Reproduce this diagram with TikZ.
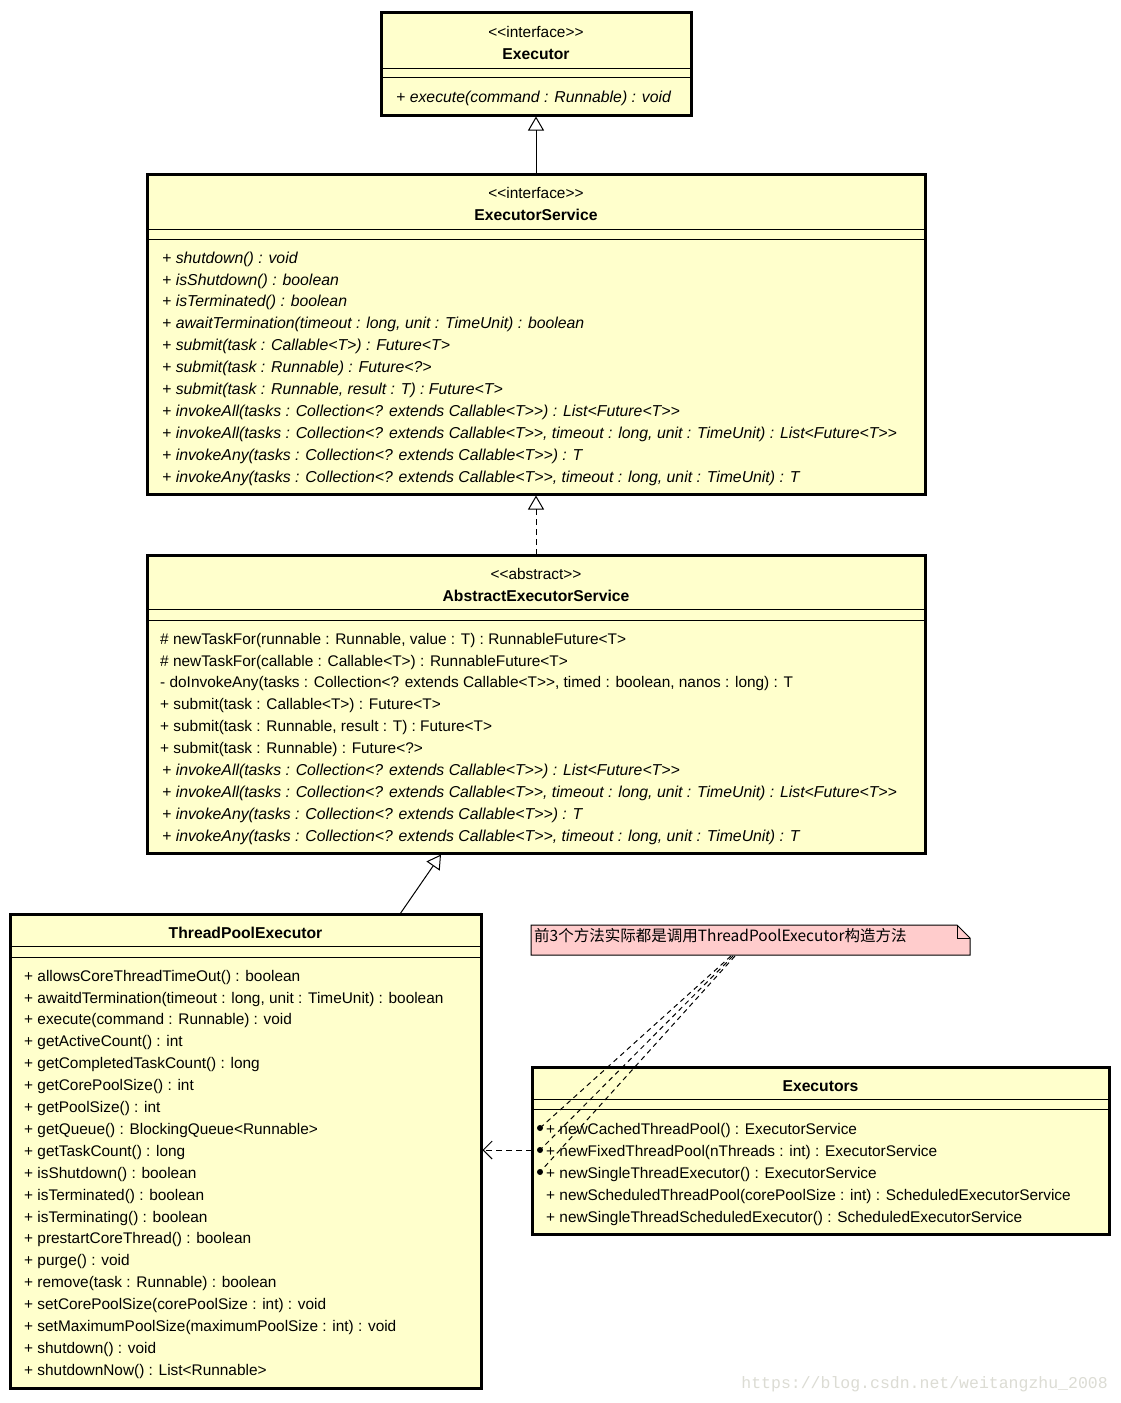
\documentclass[tikz,border=0pt]{standalone}
\usepackage{fontspec}
\setmainfont{Liberation Sans}[Ligatures=TeXOff]
\newfontfamily\cjkfont{Noto Sans CJK SC}
\newfontfamily\wmfont{Liberation Mono}
\usetikzlibrary{arrows.meta}
\definecolor{umlfill}{HTML}{FFFFCC}
\definecolor{notefill}{HTML}{FFCCCC}
\definecolor{wmgray}{HTML}{DCDCD4}
\begin{document}
\begin{tikzpicture}[x=1pt,y=-1pt,
  umlbox/.style={draw=black, line width=3pt, fill=umlfill, inner sep=0pt},
  sep/.style={draw=black, line width=1pt},
  txt/.style={inner sep=0pt, yshift=-3.5pt, font=\fontsize{15.4}{18}\selectfont},
  mtxt/.style={txt, anchor=mid west},
  itxt/.style={mtxt, font=\fontsize{15.8}{18}\selectfont\itshape},
  ctxt/.style={txt, anchor=mid},
  btxt/.style={txt, anchor=mid, font=\fontsize{15.7}{18}\selectfont\bfseries},
  gen/.style={draw=black, line width=1pt, -{Triangle[open, length=14pt, width=16pt]}},
  real/.style={gen, dash pattern=on 6pt off 4pt},
  dep/.style={draw=black, line width=1pt, dash pattern=on 6pt off 4pt, -{Straight Barb[length=9pt, width=18pt, line width=1pt]}},
  noteline/.style={draw=black, line width=1pt, dash pattern=on 5pt off 4pt},
]
\useasboundingbox (0,0) rectangle (1120,1403);
\fill[white] (0,0) rectangle (1120,1403);

% ---------- Executor ----------
\node[umlbox, minimum width=310pt, minimum height=103pt] (executor) at (536,63.5) {};
\draw[sep] (381,68) -- (691,68);
\draw[sep] (381,77) -- (691,77);
\node[ctxt] (exst) at (536,31) {<<interface>>};
\node[btxt] (exname) at (536,53) {Executor};
\node[itxt] (exm1) at (396,96) {+ execute(command : Runnable) : void};

% ---------- ExecutorService ----------
\node[umlbox, minimum width=778pt, minimum height=320pt] (es) at (536,334) {};
\draw[sep] (147,229) -- (925,229);
\draw[sep] (147,239) -- (925,239);
\node[ctxt] (esst) at (536,192) {<<interface>>};
\node[btxt] (esname) at (536,214) {ExecutorService};
\foreach \t [count=\i from 0] in {
  {+ shutdown() : void},
  {+ isShutdown() : boolean},
  {+ isTerminated() : boolean},
  {+ awaitTermination(timeout : long, unit : TimeUnit) : boolean},
  {+ submit(task : Callable<T>) : Future<T>},
  {+ submit(task : Runnable) : Future<?>},
  {+ submit(task : Runnable, result : T) : Future<T>},
  {+ invokeAll(tasks : Collection<? extends Callable<T>>) : List<Future<T>>},
  {+ invokeAll(tasks : Collection<? extends Callable<T>>, timeout : long, unit : TimeUnit) : List<Future<T>>},
  {+ invokeAny(tasks : Collection<? extends Callable<T>>) : T},
  {+ invokeAny(tasks : Collection<? extends Callable<T>>, timeout : long, unit : TimeUnit) : T}}
  \node[itxt] (esm\i) at (162,257+21.9*\i) {\t};

% ---------- AbstractExecutorService ----------
\node[umlbox, minimum width=778pt, minimum height=298pt] (aes) at (536,704) {};
\draw[sep] (147,609) -- (925,609);
\draw[sep] (147,620) -- (925,620);
\node[ctxt] (aesst) at (536,573) {<<abstract>>};
\node[btxt] (aesname) at (536,595) {AbstractExecutorService};
\foreach \t [count=\i from 0] in {
  {\# newTaskFor(runnable : Runnable, value : T) : RunnableFuture<T>},
  {\# newTaskFor(callable : Callable<T>) : RunnableFuture<T>},
  {- doInvokeAny(tasks : Collection<? extends Callable<T>>, timed : boolean, nanos : long) : T},
  {+ submit(task : Callable<T>) : Future<T>},
  {+ submit(task : Runnable, result : T) : Future<T>},
  {+ submit(task : Runnable) : Future<?>}}
  \node[mtxt] (aesm\i) at (160,638+21.9*\i) {\t};
\foreach \t [count=\i from 6] in {
  {+ invokeAll(tasks : Collection<? extends Callable<T>>) : List<Future<T>>},
  {+ invokeAll(tasks : Collection<? extends Callable<T>>, timeout : long, unit : TimeUnit) : List<Future<T>>},
  {+ invokeAny(tasks : Collection<? extends Callable<T>>) : T},
  {+ invokeAny(tasks : Collection<? extends Callable<T>>, timeout : long, unit : TimeUnit) : T}}
  \node[itxt] (aesm\i) at (162,638+21.9*\i) {\t};

% ---------- ThreadPoolExecutor ----------
\node[umlbox, minimum width=471pt, minimum height=474pt] (tpe) at (245.5,1151) {};
\draw[sep] (10,946) -- (481,946);
\draw[sep] (10,957) -- (481,957);
\node[btxt] (tpename) at (245.5,932) {ThreadPoolExecutor};
\foreach \t [count=\i from 0] in {
  {+ allowsCoreThreadTimeOut() : boolean},
  {+ awaitdTermination(timeout : long, unit : TimeUnit) : boolean},
  {+ execute(command : Runnable) : void},
  {+ getActiveCount() : int},
  {+ getCompletedTaskCount() : long},
  {+ getCorePoolSize() : int},
  {+ getPoolSize() : int},
  {+ getQueue() : BlockingQueue<Runnable>},
  {+ getTaskCount() : long},
  {+ isShutdown() : boolean},
  {+ isTerminated() : boolean},
  {+ isTerminating() : boolean},
  {+ prestartCoreThread() : boolean},
  {+ purge() : void},
  {+ remove(task : Runnable) : boolean},
  {+ setCorePoolSize(corePoolSize : int) : void},
  {+ setMaximumPoolSize(maximumPoolSize : int) : void},
  {+ shutdown() : void},
  {+ shutdownNow() : List<Runnable>}}
  \node[mtxt] (tpem\i) at (24,975+21.9*\i) {\t};

% ---------- Executors ----------
\node[umlbox, minimum width=577pt, minimum height=167pt] (exs) at (820.5,1150.5) {};
\draw[sep] (532,1099) -- (1109,1099);
\draw[sep] (532,1109) -- (1109,1109);
\node[btxt] (exsname) at (820.5,1085) {Executors};
\foreach \t [count=\i from 0] in {
  {+ newCachedThreadPool() : ExecutorService},
  {+ newFixedThreadPool(nThreads : int) : ExecutorService},
  {+ newSingleThreadExecutor() : ExecutorService},
  {+ newScheduledThreadPool(corePoolSize : int) : ScheduledExecutorService},
  {+ newSingleThreadScheduledExecutor() : ScheduledExecutorService}}
  \node[mtxt] (exsm\i) at (546,1128+22*\i) {\t};

% ---------- Note ----------
\draw[line width=1pt, fill=notefill] (531,925) -- (957,925) -- (970,938) -- (970,955) -- (531,955) -- cycle;
\draw[line width=1pt] (957,925) -- (957,938) -- (970,938);
\node[inner sep=0pt, anchor=mid west, yshift=-3pt, font=\cjkfont\fontsize{15.5}{18}\selectfont] (note) at (534,936) {前3个方法实际都是调用ThreadPoolExecutor构造方法};

% ---------- Connectors ----------
\coordinate (exbot) at (536,116.5);
\coordinate (estop) at (536,174);
\coordinate (esbot) at (536,495.5);
\coordinate (aestop) at (536,555);
\coordinate (aesbot) at (441,854.5);
\coordinate (tpetop) at (400,914);
\coordinate (exsleft) at (532,1150);
\coordinate (tperight) at (482.5,1150);

\draw[gen] (estop) -- (exbot);
\draw[real] (aestop) -- (esbot);
\draw[gen] (tpetop) -- (aesbot);
\draw[dep] (exsleft) -- (tperight);

\coordinate (na1) at (731,956);
\coordinate (na2) at (733,956);
\coordinate (na3) at (735,956);
\coordinate (d1) at (540,1128);
\coordinate (d2) at (540,1150);
\coordinate (d3) at (540,1172);

\fill (d1) circle (3pt);
\fill (d2) circle (3pt);
\fill (d3) circle (3pt);
\draw[noteline] (na1) -- (d1);
\draw[noteline] (na2) -- (d2);
\draw[noteline] (na3) -- (d3);

% watermark
\node[inner sep=0pt, anchor=mid east, yshift=-3pt, text=wmgray, font=\wmfont\fontsize{16.5}{18}\selectfont] (wm) at (1108,1383) {https://blog.csdn.net/weitangzhu\_2008};
\end{tikzpicture}
\end{document}
